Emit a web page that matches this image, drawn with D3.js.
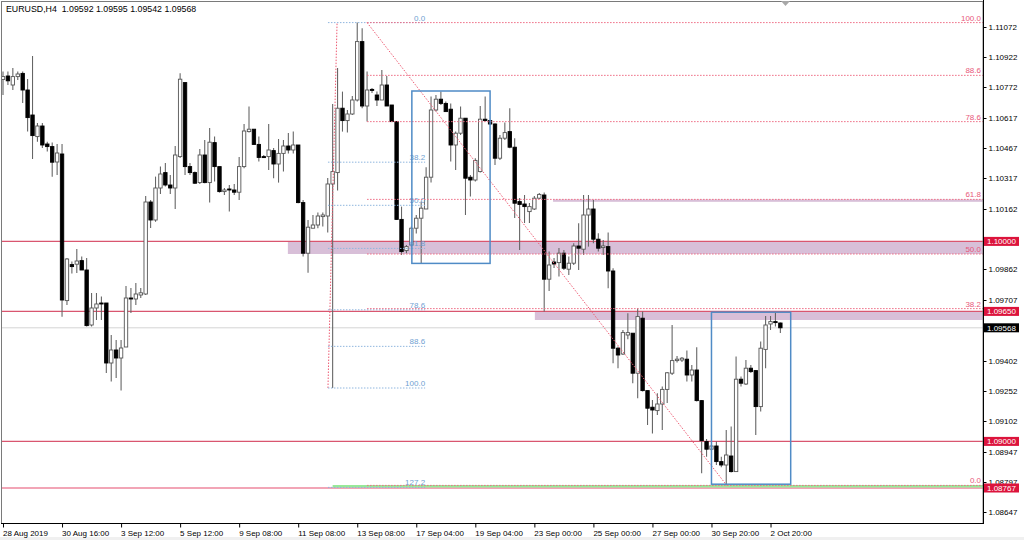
<!DOCTYPE html>
<html><head><meta charset="utf-8">
<script src="https://cdn.jsdelivr.net/npm/d3@7"></script>
<style>
body{margin:0;background:#fff}
svg{display:block}
text{font-family:"Liberation Sans",Arial,sans-serif;}
</style>
</head><body>
<svg id="c" width="1024" height="540"></svg>
<script>
// ---------- DATA ----------
const headerText = "EURUSD,H4  1.09592 1.09595 1.09542 1.09568";
const opens = [1.10810,1.10827,1.10782,1.10824,1.10840,1.10757,1.10632,1.10524,1.10577,1.10487,
1.10474,1.10397,1.10437,1.09704,1.09884,1.09886,1.09904,1.09857,1.09582,1.09667,
1.09692,1.09692,1.09392,1.09457,1.09417,1.09472,1.09717,1.09712,1.09732,1.09737,
1.10197,1.10107,1.10267,1.10344,1.10282,1.10267,1.10424,1.10794,1.10374,1.10344,
1.10294,1.10432,1.10294,1.10494,1.10374,1.10249,1.10262,1.10257,1.10246,1.10374,
1.10549,1.10561,1.10485,1.10424,1.10424,1.10454,1.10387,1.10440,1.10477,1.10457,
1.10482,1.10194,1.09941,1.10066,1.10082,1.10124,1.10127,1.10287,1.10344,1.10666,
1.10604,1.10637,1.10707,1.10999,1.10677,1.10760,1.10732,1.10707,1.10782,1.10682,
1.10599,1.10110,1.09954,1.09982,1.10066,1.10116,1.10162,1.10321,1.10657,1.10711,
1.10690,1.10661,1.10482,1.10541,1.10616,1.10321,1.10307,1.10349,1.10611,1.10604,
1.10587,1.10416,1.10516,1.10549,1.10471,1.10199,1.10187,1.10149,1.10162,1.10216,
1.10232,1.09811,1.09897,1.09894,1.09941,1.09861,1.09891,1.09977,1.09961,1.10132,
1.10162,1.10011,1.09969,1.09974,1.09852,1.09466,1.09437,1.09532,1.09541,1.09341,
1.09616,1.09254,1.09171,1.09154,1.09187,1.09260,1.09341,1.09404,1.09407,1.09411,
1.09332,1.09357,1.09204,1.08999,1.08961,1.08977,1.08899,1.08882,1.08927,1.08849,
1.09311,1.09287,1.09366,1.09354,1.09174,1.09460,1.09587,1.09599,1.09592];
const highs = [1.10849,1.10849,1.10867,1.10849,1.10849,1.10812,1.10927,1.10592,1.10592,1.10498,
1.10494,1.10487,1.10487,1.09917,1.09899,1.09962,1.09924,1.09917,1.09742,1.09742,
1.09724,1.09692,1.09532,1.09507,1.09507,1.09777,1.09767,1.09792,1.09767,1.10227,
1.10207,1.10324,1.10374,1.10392,1.10332,1.10477,1.10841,1.10794,1.10392,1.10349,
1.10462,1.10507,1.10567,1.10524,1.10374,1.10267,1.10282,1.10287,1.10422,1.10587,
1.10674,1.10561,1.10524,1.10432,1.10587,1.10467,1.10512,1.10507,1.10542,1.10549,
1.10482,1.10207,1.10107,1.10132,1.10144,1.10144,1.10317,1.10687,1.10867,1.10749,
1.10657,1.10727,1.11094,1.11066,1.10849,1.10767,1.10749,1.10857,1.10827,1.10682,
1.10599,1.10174,1.09982,1.10074,1.10132,1.10199,1.10371,1.10724,1.10732,1.10749,
1.10699,1.10690,1.10549,1.10674,1.10616,1.10332,1.10416,1.10677,1.10724,1.10607,
1.10591,1.10532,1.10594,1.10666,1.10516,1.10217,1.10232,1.10192,1.10227,1.10242,
1.10244,1.09949,1.09917,1.09967,1.09957,1.09924,1.09991,1.10091,1.10232,1.10232,
1.10207,1.10041,1.10007,1.10044,1.09866,1.09474,1.09557,1.09641,1.09541,1.09666,
1.09649,1.09254,1.09207,1.09241,1.09274,1.09347,1.09582,1.09427,1.09422,1.09454,
1.09382,1.09471,1.09207,1.09012,1.08987,1.08999,1.08923,1.09057,1.09074,1.09424,
1.09324,1.09407,1.09382,1.09357,1.09499,1.09627,1.09627,1.09644,1.09595];
const lows = [1.10732,1.10782,1.10757,1.10807,1.10692,1.10549,1.10412,1.10498,1.10467,1.10449,
1.10323,1.10332,1.09623,1.09682,1.09840,1.09842,1.09857,1.09574,1.09574,1.09607,
1.09607,1.09342,1.09299,1.09317,1.09254,1.09472,1.09642,1.09682,1.09717,1.09732,
1.10067,1.10098,1.10237,1.10274,1.10237,1.10162,1.10417,1.10332,1.10332,1.10287,
1.10287,1.10291,1.10194,1.10299,1.10244,1.10232,1.10149,1.10232,1.10207,1.10366,
1.10544,1.10482,1.10399,1.10417,1.10357,1.10316,1.10294,1.10349,1.10440,1.10440,
1.10191,1.09924,1.09843,1.10066,1.10066,1.10074,1.10044,1.09267,1.10254,1.10549,
1.10544,1.10632,1.10699,1.10666,1.10599,1.10742,1.10677,1.10707,1.10677,1.10597,
1.10107,1.09932,1.09941,1.09974,1.10040,1.09891,1.10162,1.10294,1.10649,1.10682,
1.10649,1.10399,1.10357,1.10532,1.10132,1.10224,1.10299,1.10344,1.10599,1.10582,
1.10382,1.10407,1.10507,1.10466,1.10117,1.09957,1.10092,1.10092,1.10157,1.10212,
1.09649,1.09752,1.09867,1.09824,1.09857,1.09832,1.09882,1.09857,1.09932,1.09974,
1.09991,1.09949,1.09932,1.09766,1.09391,1.09366,1.09432,1.09511,1.09291,1.09216,
1.09249,1.09082,1.09040,1.09132,1.09057,1.09192,1.09332,1.09394,1.09397,1.09299,
1.09299,1.09199,1.08841,1.08923,1.08952,1.08882,1.08871,1.08782,1.08844,1.08849,
1.09274,1.09282,1.09342,1.09032,1.09149,1.09366,1.09557,1.09574,1.09542];
const closes = [1.10824,1.10803,1.10824,1.10837,1.10757,1.10619,1.10529,1.10577,1.10482,1.10474,
1.10396,1.10442,1.09707,1.09912,1.09874,1.09902,1.09857,1.09579,1.09667,1.09687,
1.09687,1.09392,1.09457,1.09417,1.09467,1.09717,1.09712,1.09737,1.09743,1.10197,
1.10107,1.10267,1.10337,1.10282,1.10267,1.10432,1.10811,1.10374,1.10344,1.10291,
1.10432,1.10294,1.10496,1.10374,1.10249,1.10257,1.10257,1.10246,1.10374,1.10552,
1.10561,1.10485,1.10420,1.10419,1.10457,1.10387,1.10440,1.10477,1.10457,1.10482,
1.10194,1.09941,1.10071,1.10082,1.10127,1.10132,1.10287,1.10349,1.10666,1.10604,
1.10637,1.10707,1.10999,1.10677,1.10757,1.10755,1.10707,1.10782,1.10677,1.10599,
1.10110,1.09949,1.09974,1.10066,1.10116,1.10166,1.10321,1.10657,1.10711,1.10690,
1.10649,1.10482,1.10541,1.10616,1.10316,1.10307,1.10405,1.10611,1.10604,1.10587,
1.10416,1.10516,1.10544,1.10471,1.10191,1.10185,1.10174,1.10174,1.10216,1.10235,
1.09811,1.09882,1.09887,1.09941,1.09866,1.09891,1.09977,1.09966,1.10132,1.10162,
1.10011,1.09966,1.09977,1.09852,1.09466,1.09432,1.09544,1.09544,1.09341,1.09624,
1.09254,1.09166,1.09157,1.09187,1.09260,1.09343,1.09404,1.09411,1.09416,1.09332,
1.09357,1.09204,1.09004,1.08961,1.08977,1.08899,1.08882,1.08932,1.08849,1.09311,
1.09291,1.09366,1.09349,1.09174,1.09466,1.09582,1.09599,1.09594,1.09568];

const timeTickBars = [0,12,24,36,48,60,72,84,96,108,120,132,144,156];
const timeTickLabels = ["28 Aug 2019","30 Aug 16:00","3 Sep 12:00","5 Sep 12:00","9 Sep 08:00","11 Sep 08:00",
  "13 Sep 08:00","17 Sep 04:00","19 Sep 04:00","23 Sep 00:00","25 Sep 00:00","27 Sep 00:00","30 Sep 20:00","2 Oct 20:00"];
const priceTicks = [1.11072,1.10922,1.10772,1.10617,1.10467,1.10317,1.10162,1.10012,1.09862,1.09707,
  1.09557,1.09402,1.09252,1.09102,1.08947,1.08797,1.08647];
// tick labels fully hidden behind a price tag in the reference (tick mark kept)
const hiddenTickLabels = [1.09557];

// horizontal lines & price tags
const crimsonLevels = [1.10000,1.09650,1.09000];
const pinkLevel = 1.08767;
const bidLevel = 1.09568;
const tagPrices = [1.10000,1.09650,1.09000,1.08767];
const greenLevel = 1.08776, greenStartBar = 67;

// shaded zones (thistle)
const zoneStartBars = [57.9,108.1,111.8];
const zoneTops = [1.10000,1.09650,1.10210];
const zoneBottoms = [1.09937,1.09607,1.10198];

// blue rectangles
const boxStartBars = [83.1,144.0];
const boxEndBars = [99.0,160.1];
const boxTops = [1.10752,1.09646];
const boxBottoms = [1.09890,1.08786];

// blue Fibonacci (0 at high, 100 at low)
const blueFibHigh = 1.11094, blueFibLow = 1.09267;
const blueFibLowBar = 66.05, blueFibHighBar = 67.9, blueFibEndBar = 85.8;
const blueFibLevels = [0,38.2,50,61.8,78.6,88.6,100,127.2];
const blueFibLabels = ["0.0","38.2","50.0","61.8","78.6","88.6","100.0","127.2"];

// red Fibonacci (100 at high, 0 at low)
const redFibHigh = 1.11094, redFibLow = 1.08780;
const redFibHighBar = 74.0, redFibLowBar = 147.1;
const redFibLevels = [0,38.2,50,61.8,78.6,88.6,100];
const redFibLabels = ["0.0","38.2","50.0","61.8","78.6","88.6","100.0"];

// ---------- DRAW ----------
const W = 1024, H = 540;
const P = {l:2, t:2, r:983, b:523};
const x = d3.scaleLinear().domain([0,158]).range([3, 3 + 4.92*158]);
const y = d3.scaleLinear().domain([1.08587,1.11207]).range([524,0]);
const rightBar = x.invert(P.r);

const svg = d3.select("#c");
svg.append("rect").attr("width",W).attr("height",H).attr("fill","#fff");
svg.append("rect").attr("x",0).attr("y",537).attr("width",W).attr("height",3).attr("fill","#f0f0f0");

svg.append("defs").append("clipPath").attr("id","clip")
  .append("rect").attr("x",P.l).attr("y",P.t).attr("width",P.r-P.l).attr("height",P.b-P.t);
const g = svg.append("g").attr("clip-path","url(#clip)");

// zones
g.selectAll("rect.zone").data(zoneStartBars).join("rect").attr("class","zone")
  .attr("x",d=>x(d)).attr("width",d=>x(rightBar)-x(d)+2)
  .attr("y",(d,i)=>y(zoneTops[i])).attr("height",(d,i)=>Math.max(2.2,y(zoneBottoms[i])-y(zoneTops[i])))
  .attr("fill","#d8bfd8");

// pink line, green line
g.append("line").attr("x1",P.l).attr("x2",P.r).attr("y1",y(pinkLevel)).attr("y2",y(pinkLevel))
  .attr("stroke","#f2a5b6").attr("stroke-width",2);
g.append("line").attr("x1",x(greenStartBar)).attr("x2",P.r).attr("y1",y(greenLevel)).attr("y2",y(greenLevel))
  .attr("stroke","#98ea98").attr("stroke-width",2.6);

// bid line
g.append("line").attr("x1",P.l).attr("x2",P.r).attr("y1",y(bidLevel)).attr("y2",y(bidLevel))
  .attr("stroke","#d4d4d4").attr("stroke-width",1);

// crimson lines
g.selectAll("line.hl").data(crimsonLevels).join("line").attr("class","hl")
  .attr("x1",P.l).attr("x2",P.r).attr("y1",d=>y(d)).attr("y2",d=>y(d))
  .attr("stroke","#d9566f").attr("stroke-width",1.1);

// candles
const idx = d3.range(opens.length);
const cg = g.append("g");
cg.selectAll("line.wick").data(idx).join("line").attr("class","wick")
  .attr("x1",i=>x(i)).attr("x2",i=>x(i)).attr("y1",i=>y(highs[i])).attr("y2",i=>y(lows[i]))
  .attr("stroke","#666").attr("stroke-width",1.1);
cg.selectAll("rect.body").data(idx).join("rect").attr("class","body")
  .attr("x",i=>x(i)-1.7).attr("width",3.4)
  .attr("y",i=>y(Math.max(opens[i],closes[i])))
  .attr("height",i=>Math.max(1,Math.abs(y(opens[i])-y(closes[i]))))
  .attr("fill",i=>closes[i]>=opens[i]?"#fff":"#000")
  .attr("stroke",i=>closes[i]>=opens[i]?"#555":"#000").attr("stroke-width",0.9);

// blue fib
const bfPrice = l => blueFibHigh - l/100*(blueFibHigh-blueFibLow);
g.append("line").attr("x1",x(blueFibLowBar)).attr("y1",y(blueFibLow)).attr("x2",x(blueFibHighBar)).attr("y2",y(blueFibHigh))
  .attr("stroke","#ee5c74").attr("stroke-width",1).attr("stroke-dasharray","1.5,1.5");
g.selectAll("line.bf").data(blueFibLevels).join("line").attr("class","bf")
  .attr("x1",x(blueFibLowBar)).attr("x2",x(blueFibEndBar)).attr("y1",d=>y(bfPrice(d))).attr("y2",d=>y(bfPrice(d)))
  .attr("stroke","#8fb6de").attr("stroke-width",1).attr("stroke-dasharray","1.5,1.5");
g.selectAll("text.bf").data(blueFibLevels).join("text").attr("class","bf")
  .attr("x",x(blueFibEndBar)).attr("y",d=>y(bfPrice(d))-2).attr("text-anchor","end")
  .attr("font-size",8).attr("fill","#6f9fd2").text((d,i)=>blueFibLabels[i]);

// red fib
const rfPrice = l => redFibLow + l/100*(redFibHigh-redFibLow);
g.append("line").attr("x1",x(redFibHighBar)).attr("y1",y(redFibHigh)).attr("x2",x(redFibLowBar)).attr("y2",y(redFibLow))
  .attr("stroke","#ee5c74").attr("stroke-width",1).attr("stroke-dasharray","1.5,1.5");
g.selectAll("line.rf").data(redFibLevels).join("line").attr("class","rf")
  .attr("x1",x(redFibHighBar)).attr("x2",P.r).attr("y1",d=>y(rfPrice(d))).attr("y2",d=>y(rfPrice(d)))
  .attr("stroke","#ee6a82").attr("stroke-width",1).attr("stroke-dasharray","1.5,1.5");
g.selectAll("text.rf").data(redFibLevels).join("text").attr("class","rf")
  .attr("x",P.r-2).attr("y",d=>y(rfPrice(d))-2).attr("text-anchor","end")
  .attr("font-size",8).attr("fill","#e8587a").text((d,i)=>redFibLabels[i]);

// blue rectangles
g.selectAll("rect.box").data(boxStartBars).join("rect").attr("class","box")
  .attr("x",d=>x(d)).attr("width",(d,i)=>x(boxEndBars[i])-x(d))
  .attr("y",(d,i)=>y(boxTops[i])).attr("height",(d,i)=>y(boxBottoms[i])-y(boxTops[i]))
  .attr("fill","none").attr("stroke","#4f8bc6").attr("stroke-width",1.5);

// frame
svg.append("rect").attr("x",1.5).attr("y",1.5).attr("width",P.r-1.5).attr("height",P.b-1)
  .attr("fill","none").attr("stroke","#7a7a7a").attr("stroke-width",1);
svg.append("line").attr("x1",P.r+0.5).attr("x2",P.r+0.5).attr("y1",0).attr("y2",P.b+1).attr("stroke","#000");
svg.append("line").attr("x1",1).attr("x2",P.r+1).attr("y1",P.b+0.5).attr("y2",P.b+0.5).attr("stroke","#000");
// shift marker
svg.append("polygon").attr("points","781,1 790,1 785.5,6").attr("fill","#a8a8a8");

// right axis
const ra = svg.append("g").attr("transform",`translate(${P.r+0.5},0)`)
  .call(d3.axisRight(y).tickValues(priceTicks)
    .tickFormat(d=>hiddenTickLabels.includes(d)?"":d3.format(".5f")(d)).tickSize(3).tickPadding(2));
ra.select(".domain").remove();
ra.selectAll("line").attr("stroke","#000");
ra.selectAll("text").attr("font-size",8).attr("fill","#000").attr("font-family","Liberation Sans, Arial, sans-serif");

// bottom axis
const ba = svg.append("g").attr("transform",`translate(0,${P.b+0.5})`)
  .call(d3.axisBottom(x).tickValues(timeTickBars).tickFormat((d,i)=>timeTickLabels[i]).tickSize(4).tickPadding(3));
ba.select(".domain").remove();
ba.selectAll("line").attr("stroke","#000");
ba.selectAll("text").attr("font-size",8).attr("fill","#000").attr("text-anchor","start").attr("dx",-0.5)
  .attr("font-family","Liberation Sans, Arial, sans-serif");

// price tags
const tags = svg.append("g");
tags.selectAll("rect.tag").data(tagPrices).join("rect").attr("class","tag")
  .attr("x",P.r+1).attr("y",d=>y(d)-4.5).attr("width",35).attr("height",9).attr("fill","#dc143c");
tags.selectAll("text.tag").data(tagPrices).join("text").attr("class","tag")
  .attr("x",P.r+4).attr("y",d=>y(d)+3).attr("font-size",8).attr("fill","#fff").text(d=>d.toFixed(5));
tags.append("rect").attr("x",P.r+1).attr("y",y(bidLevel)-4.5).attr("width",35).attr("height",9).attr("fill","#000");
tags.append("text").attr("x",P.r+4).attr("y",y(bidLevel)+3).attr("font-size",8).attr("fill","#fff").text(bidLevel.toFixed(5));

// header
svg.append("text").attr("x",6).attr("y",12).attr("font-size",8.8).attr("fill","#000")
  .style("white-space","pre").text(headerText);
</script>
</body></html>
